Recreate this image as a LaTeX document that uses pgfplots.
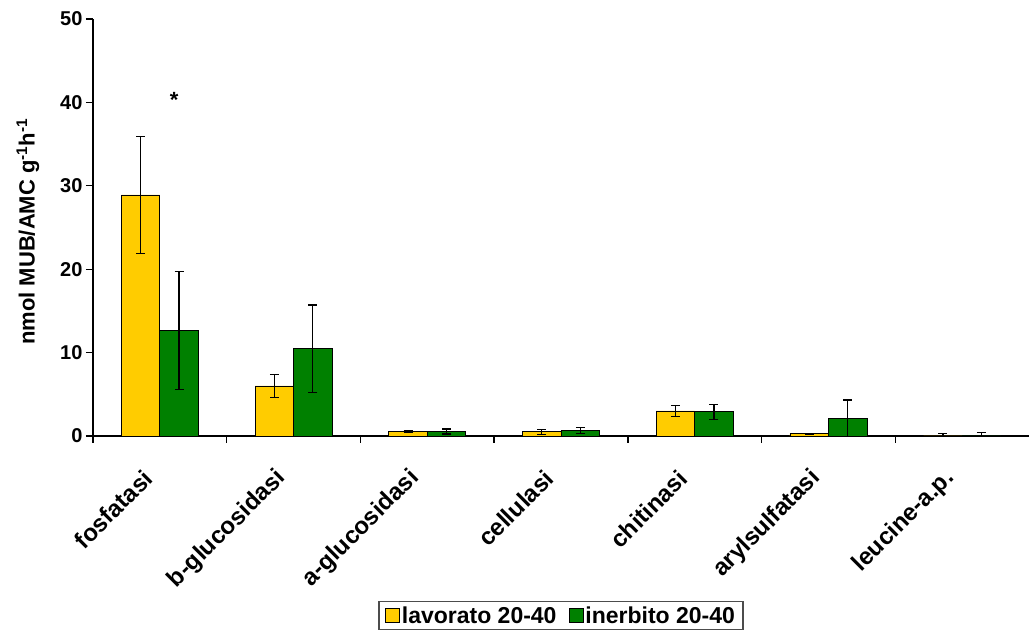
\documentclass[border=0pt]{standalone}
\usepackage{fontspec}
\setmainfont{Liberation Sans}
\usepackage{pgfplots}
\pgfplotsset{compat=1.18}
\definecolor{yel}{HTML}{FFCC00}
\definecolor{grn}{HTML}{008000}
\begin{document}
\begin{tikzpicture}[x=1pt,y=1pt]
\path[use as bounding box] (0,0) rectangle (1029,632);
\begin{axis}[
  at={(93pt,196pt)}, anchor=south west,
  scale only axis, width=936pt, height=417pt,
  xmin=-0.5, xmax=6.5, ymin=0, ymax=50,
  axis x line*=bottom, axis y line*=left,
  axis line style={-, line width=1.3pt},
  ytick={0,10,20,30,40,50},
  xtick={-0.5,0.5,1.5,2.5,3.5,4.5,5.5},
  xticklabels={},
  extra x ticks={0,1,2,3,4,5,6},
  extra x tick labels={fosfatasi,b-glucosidasi,a-glucosidasi,cellulasi,chitinasi,arylsulfatasi,leucine-a.p.},
  extra x tick style={major tick length=0pt, tick label style={rotate=45, anchor=east, xshift=-32pt, yshift=-19pt, font=\fontsize{24}{26}\selectfont\bfseries}},
  tick align=outside, major tick length=7pt,
  tick style={black, line width=1.3pt},
  /pgf/number format/assume math mode=true,
  tick label style={font=\fontsize{20}{22}\selectfont\bfseries},
  every axis y label/.style={at={(axis description cs:-0.0695,0.49)}, rotate=90, anchor=center},
  ylabel={nmol MUB/AMC g\textsuperscript{-1}h\textsuperscript{-1}},
  label style={font=\fontsize{22}{24}\selectfont\bfseries},
  legend style={at={(0.5,-0.3957)}, anchor=north, legend columns=2, draw=black!70, line width=1.2pt,
    font=\fontsize{23}{25}\selectfont\bfseries, inner xsep=6pt, inner ysep=3pt,
    /tikz/every even column/.append style={column sep=10pt}},
  legend image code/.code={\draw[#1, draw=black, line width=0.8pt] (0pt,-7pt) rectangle (14pt,7pt);},
]
\addplot[ybar, bar width=0.288, bar shift=0pt, fill=yel, draw=black, line width=0.8pt,
  error bars/.cd, y dir=both, y explicit,
  error bar style={line width=1.3pt, black},
  error mark options={rotate=90, mark size=4.5pt, line width=1.3pt, black}]
 coordinates {
  (-0.144,28.9) +- (0,7.05)
  (0.856,6.0) +- (0,1.4)
  (1.856,0.5) +- (0,0.1)
  (2.856,0.5) +- (0,0.3)
  (3.856,3.0) +- (0,0.68)
  (4.856,0.28) +- (0,0.05)
  (5.856,0.0) +- (0,0.32)
 };
\addlegendentry{lavorato 20-40}
\addplot[ybar, bar width=0.288, bar shift=0pt, fill=grn, draw=black, line width=0.8pt,
  error bars/.cd, y dir=both, y explicit,
  error bar style={line width=1.3pt, black},
  error mark options={rotate=90, mark size=4.5pt, line width=1.3pt, black}]
 coordinates {
  (0.144,12.65) +- (0,7.05)
  (1.144,10.45) +- (0,5.25)
  (2.144,0.55) +- (0,0.3)
  (3.144,0.68) +- (0,0.34)
  (4.144,2.9) +- (0,0.9)
  (5.144,2.1) +- (0,2.2)
  (6.144,0.0) +- (0,0.44)
 };
\addlegendentry{inerbito 20-40}
\node[anchor=north, inner sep=0pt, font=\fontsize{22}{24}\selectfont\bfseries] at (axis cs:0.106,41.2) {*};
\end{axis}
\end{tikzpicture}
\end{document}
